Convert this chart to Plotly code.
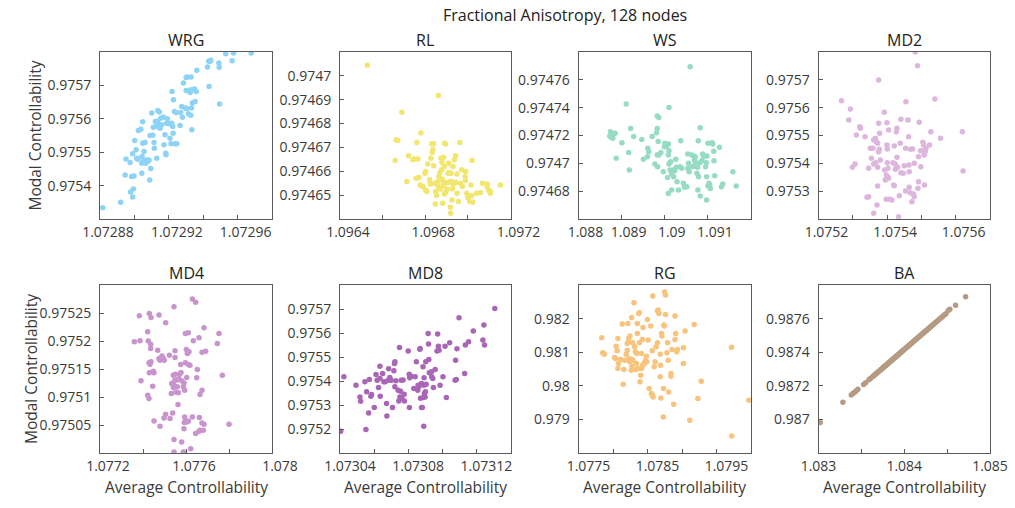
import plotly.graph_objects as go

W, H = 1015, 508

panel_names = ["WRG", "RL", "WS", "MD2", "MD4", "MD8", "RG", "BA"]
panel_colors = ["#8DD3F5", "#F3E66E", "#96DCC4", "#DDB6DE", "#C994CD", "#A966B6", "#F8C37C", "#B69A82"]

main_title = "Fractional Anisotropy, 128 nodes"
x_title = "Average Controllability"
y_title = "Modal Controllability"

wrg_x = [1.0728816, 1.072892, 1.0728946, 1.0728951, 1.0728975, 1.0728978, 1.072899, 1.0728994, 1.0728984, 1.0728998,
         1.072899, 1.0729002, 1.072901, 1.0729013, 1.0729019, 1.0729023, 1.0729037, 1.0729043, 1.0729043, 1.0729044,
         1.0729048, 1.0729048, 1.0729052, 1.0729056, 1.0729062, 1.0729066, 1.0729072, 1.0729081, 1.0729085, 1.0729089,
         1.0729095, 1.0729091, 1.0729101, 1.0729107, 1.072911, 1.0729114, 1.0729116, 1.0729122, 1.0729126, 1.072913,
         1.0729134, 1.0729136, 1.0729141, 1.0729145, 1.0729149, 1.0729153, 1.0729159, 1.0729169, 1.0729172, 1.0729178,
         1.0729182, 1.0729184, 1.0729188, 1.0729192, 1.0729202, 1.0729207, 1.0729213, 1.0729217, 1.0729219, 1.0729223,
         1.0729225, 1.0729227, 1.0729233, 1.0729237, 1.0729242, 1.0729246, 1.0729266, 1.0729269, 1.0729275, 1.0729279,
         1.0729285, 1.0729295, 1.0729301, 1.0729301, 1.0729304, 1.0729308, 1.0729314, 1.0729324, 1.0729328, 1.0729328,
         1.072933, 1.0729332, 1.0729334, 1.0729337, 1.0729349, 1.0729353, 1.0729359, 1.0729363, 1.0729425, 1.0729432,
         1.0729434, 1.072944, 1.0729444, 1.0729491, 1.0729493, 1.0729495, 1.0729531, 1.0729568, 1.0729576, 1.0729679]
wrg_y = [0.975334, 0.97535, 0.975432, 0.97548, 0.975469, 0.975381, 0.975366, 0.97539, 0.975427, 0.975429,
         0.975495, 0.975535, 0.975507, 0.975482, 0.975479, 0.975565, 0.975569, 0.975437, 0.975467, 0.975487,
         0.975591, 0.975527, 0.975477, 0.975502, 0.975529, 0.975467, 0.975477, 0.975474, 0.975477, 0.975417,
         0.975451, 0.97555, 0.975617, 0.975551, 0.975575, 0.975529, 0.975512, 0.975592, 0.975577, 0.975482,
         0.975593, 0.975625, 0.975583, 0.97562, 0.975572, 0.975602, 0.975582, 0.975605, 0.975522, 0.975552,
         0.975497, 0.975492, 0.975587, 0.9756, 0.975585, 0.975542, 0.975525, 0.975587, 0.975682, 0.975577,
         0.975557, 0.975657, 0.975622, 0.975525, 0.975619, 0.975525, 0.97558, 0.975619, 0.975637, 0.975605,
         0.975707, 0.975632, 0.975685, 0.975724, 0.975631, 0.975725, 0.975615, 0.975679, 0.975611, 0.975687,
         0.975725, 0.975632, 0.975567, 0.975647, 0.975689, 0.975652, 0.975682, 0.975745, 0.975755, 0.975772,
         0.975697, 0.975772, 0.975775, 0.975767, 0.975754, 0.975644, 0.975795, 0.975774, 0.975797, 0.975797]

rl_x = [1.0965287, 1.0968613, 1.0966903, 1.0966636, 1.0966714, 1.0967797, 1.0967609, 1.0966589, 1.0967216, 1.096742,
        1.0967483, 1.0967656, 1.0967138, 1.0967577, 1.0967703, 1.0967766, 1.0967797, 1.0967891, 1.0968017, 1.0968079,
        1.0967985, 1.0968017, 1.0968111, 1.0968205, 1.0968236, 1.0968268, 1.096833, 1.0968299, 1.0968393, 1.0968362,
        1.0968393, 1.096844, 1.0968487, 1.0968472, 1.0968534, 1.0968581, 1.0968613, 1.0968644, 1.0968691, 1.0968707,
        1.0968738, 1.096877, 1.0968785, 1.0968801, 1.0968833, 1.0968864, 1.0968817, 1.0968895, 1.0968927, 1.0968958,
        1.0968895, 1.0968864, 1.0968911, 1.0968958, 1.0969021, 1.0969052, 1.0969068, 1.0969099, 1.0969131, 1.0969178,
        1.0969209, 1.096924, 1.0969178, 1.0969193, 1.0969256, 1.0969272, 1.0969303, 1.0969303, 1.0969366, 1.0969429,
        1.0969444, 1.0969492, 1.0969492, 1.0969554, 1.0969617, 1.0969648, 1.0969711, 1.0969743, 1.0969868, 1.09699,
        1.0969884, 1.0969947, 1.0969994, 1.0970088, 1.097015, 1.0970166, 1.0970198, 1.0970229, 1.0970402, 1.097059,
        1.0970684, 1.0970904, 1.0970982, 1.0971061, 1.097105, 1.0971531, 1.0970904]
rl_y = [0.9747044, 0.9746918, 0.9746847, 0.9746732, 0.9746729, 0.974676, 0.9746721, 0.9746645, 0.9746665, 0.9746648,
        0.9746651, 0.9746652, 0.9746557, 0.9746571, 0.9746574, 0.9746543, 0.9746539, 0.9746536, 0.9746522, 0.9746515,
        0.9746592, 0.9746599, 0.9746631, 0.9746564, 0.9746547, 0.9746655, 0.9746679, 0.9746715, 0.9746715, 0.974669,
        0.9746623, 0.974655, 0.9746515, 0.9746463, 0.9746498, 0.9746557, 0.9746536, 0.9746578, 0.9746595, 0.9746525,
        0.9746655, 0.9746606, 0.9746637, 0.9746567, 0.9746557, 0.9746539, 0.9746466, 0.9746505, 0.9746508, 0.9746512,
        0.974662, 0.9746659, 0.9746718, 0.9746714, 0.9746525, 0.9746553, 0.9746592, 0.9746634, 0.9746595, 0.9746557,
        0.9746592, 0.9746557, 0.9746449, 0.9746424, 0.974648, 0.9746527, 0.9746547, 0.974662, 0.9746648, 0.9746665,
        0.9746553, 0.9746508, 0.9746589, 0.9746473, 0.9746721, 0.974655, 0.9746606, 0.9746536, 0.9746578, 0.9746599,
        0.9746561, 0.9746508, 0.974649, 0.9746473, 0.9746543, 0.9746497, 0.9746645, 0.974647, 0.9746508, 0.9746511,
        0.974655, 0.9746547, 0.9746522, 0.9746515, 0.9746508, 0.9746543, 0.9746536]

ws_x = [1.0905894, 1.0891079, 1.0900982, 1.0898643, 1.0887415, 1.0888195, 1.0888507, 1.0887571, 1.0887961, 1.0887259,
        1.0892093, 1.0892795, 1.0890066, 1.088874, 1.0891625, 1.0891781, 1.0894666, 1.0895056, 1.089607, 1.0896304,
        1.0895992, 1.0897083, 1.0897707, 1.0898097, 1.0898253, 1.0898253, 1.0898487, 1.0898253, 1.0898643, 1.0898331,
        1.089911, 1.089989, 1.0899656, 1.0900046, 1.0900436, 1.0900826, 1.0900982, 1.0900826, 1.0900982, 1.0901216,
        1.0901372, 1.0901606, 1.0902073, 1.0902541, 1.0903711, 1.0901606, 1.0900826, 1.090067, 1.0901995, 1.0902307,
        1.0902697, 1.0902853, 1.0903165, 1.0903555, 1.0903945, 1.0904334, 1.0904568, 1.0905114, 1.0905348, 1.0905504,
        1.0905348, 1.090566, 1.0906439, 1.0906284, 1.0906674, 1.0906907, 1.0907063, 1.0907063, 1.0907453, 1.0907609,
        1.0907765, 1.0907843, 1.0908155, 1.0908233, 1.0908623, 1.0908779, 1.0909013, 1.0909481, 1.0909636, 1.0909714,
        1.0909792, 1.0910026, 1.0910026, 1.091026, 1.0910416, 1.0910572, 1.0910962, 1.0911118, 1.0911352, 1.091143,
        1.0911586, 1.0912677, 1.0913145, 1.0913457, 1.0915796, 1.0916576, 1.0908233, 1.0909714, 1.0907687]
ws_y = [0.9747694, 0.9747426, 0.9747402, 0.974733, 0.9747227, 0.9747211, 0.9747216, 0.9747187, 0.974718, 0.9747196,
        0.9747251, 0.9747192, 0.9747148, 0.9747036, 0.9747077, 0.9746952, 0.9747172, 0.9747029, 0.9747108, 0.9747084,
        0.9747048, 0.9747192, 0.9746995, 0.974722, 0.9747251, 0.974734, 0.9747156, 0.974706, 0.974706, 0.9746976,
        0.9747077, 0.974712, 0.974694, 0.9747144, 0.974712, 0.9747139, 0.9747091, 0.974706, 0.9746995, 0.9746952,
        0.9747012, 0.9746923, 0.9746904, 0.9747029, 0.9747163, 0.9746808, 0.9746784, 0.9746899, 0.9746952, 0.9746947,
        0.9746971, 0.9746868, 0.9746808, 0.9746976, 0.9746964, 0.9746856, 0.9746828, 0.9746832, 0.9747067, 0.9747,
        0.9746964, 0.974694, 0.9746976, 0.974706, 0.9747053, 0.9747024, 0.9747005, 0.9747048, 0.9746928, 0.9746971,
        0.9747163, 0.9746904, 0.9747005, 0.9747256, 0.9747017, 0.9747067, 0.9747048, 0.9746976, 0.9747005, 0.9746904,
        0.9747053, 0.9747144, 0.9746837, 0.9746856, 0.9746844, 0.974682, 0.9747148, 0.9747139, 0.9747086, 0.9747019,
        0.9746911, 0.9747115, 0.9746832, 0.9746851, 0.974694, 0.9746837, 0.9746765, 0.9746737, 0.9746808]

md2_x = [1.075482, 1.0754888, 1.0753754, 1.0752669, 1.075293, 1.0752882, 1.0753202, 1.0753221, 1.0753105, 1.0753357,
         1.0753657, 1.0753754, 1.0753919, 1.0753996, 1.0754045, 1.0754287, 1.0754267, 1.0753783, 1.0753609, 1.0753686,
         1.0753725, 1.0753512, 1.0753589, 1.0753773, 1.0754006, 1.0754209, 1.0754384, 1.0754403, 1.0754548, 1.0754607,
         1.0754626, 1.0754539, 1.0754684, 1.0754742, 1.0754936, 1.0754975, 1.0755043, 1.075511, 1.075513, 1.0755236,
         1.0755275, 1.0755392, 1.0755556, 1.0756196, 1.0756215, 1.0752988, 1.0753066, 1.0753463, 1.0753541, 1.0753609,
         1.0753667, 1.0753725, 1.0753802, 1.0753928, 1.0754006, 1.0754025, 1.0754171, 1.0754238, 1.0754287, 1.0754306,
         1.0754238, 1.0753977, 1.0753996, 1.0754045, 1.0753948, 1.0754016, 1.075419, 1.0754209, 1.0754403, 1.0754471,
         1.07545, 1.0754636, 1.0754645, 1.0754791, 1.0754917, 1.0754985, 1.0755081, 1.075511, 1.0755062, 1.0753415,
         1.0753463, 1.0753725, 1.0753705, 1.0753609, 1.0753977, 1.0754074, 1.0754141, 1.0754355, 1.0754539, 1.0754645,
         1.0754674, 1.0754771, 1.0754791, 1.0754917, 1.0754897, 1.0755091, 1.0754335, 1.0754723, 1.0753996, 1.0753754]
md2_y = [0.9758, 0.9757509, 0.9756994, 0.9756251, 0.9755952, 0.9755557, 0.9755317, 0.9755257, 0.9755018, 0.9754958,
         0.9754898, 0.9755437, 0.9755832, 0.9755461, 0.9755198, 0.9755257, 0.9755138, 0.9755078, 0.9754838, 0.9754778,
         0.9754719, 0.9754539, 0.9754539, 0.9754503, 0.9754515, 0.9754623, 0.9754719, 0.9755581, 0.9756216, 0.9755557,
         0.9754958, 0.9754539, 0.9754503, 0.9754515, 0.9755473, 0.9754455, 0.9754754, 0.9754503, 0.9754539, 0.9754659,
         0.9755138, 0.9756311, 0.9754898, 0.9755138, 0.9753725, 0.9753856, 0.9753976, 0.975382, 0.975418, 0.9753976,
         0.9754024, 0.9753856, 0.975412, 0.975376, 0.9754024, 0.975382, 0.9754024, 0.9753976, 0.9754216, 0.9753856,
         0.9753784, 0.9753581, 0.9753497, 0.9753461, 0.9753401, 0.9753521, 0.9753222, 0.9753198, 0.9753665, 0.9753641,
         0.9753916, 0.975394, 0.9753701, 0.9754, 0.9754239, 0.975388, 0.9754299, 0.9754419, 0.9754659, 0.9752778,
         0.9752802, 0.9753186, 0.9752503, 0.9752204, 0.9752707, 0.9752707, 0.9752683, 0.9752838, 0.9753006, 0.9753138,
         0.9752946, 0.9752898, 0.9752802, 0.9753341, 0.9753102, 0.9753222, 0.9752084, 0.9752623, 0.9754659, 0.9754419]

md4_x = [1.0776295, 1.077645, 1.0775442, 1.0773829, 1.0774295, 1.0774372, 1.0774744, 1.0775054, 1.0776837, 1.0777535,
         1.0774217, 1.0773597, 1.077386, 1.0774248, 1.0774357, 1.0774682, 1.0774357, 1.0775969, 1.0776109, 1.0776341,
         1.0776605, 1.0776744, 1.0776915, 1.0777457, 1.0775488, 1.0775488, 1.0775225, 1.0774884, 1.0774946, 1.0774791,
         1.0774992, 1.0774744, 1.0776016, 1.077614, 1.0776062, 1.0775969, 1.0776124, 1.0776186, 1.0776527, 1.0776496,
         1.077769, 1.0774279, 1.0774372, 1.0774326, 1.0774295, 1.0774512, 1.0774481, 1.0773907, 1.0775752, 1.0775767,
         1.077569, 1.0775504, 1.0775411, 1.0775488, 1.0775566, 1.0775333, 1.0775442, 1.0775674, 1.0775798, 1.0775907,
         1.0775876, 1.0775938, 1.0775597, 1.0775535, 1.0775411, 1.0775318, 1.0775643, 1.0776031, 1.0776651, 1.0776744,
         1.0774217, 1.0774279, 1.077445, 1.0775628, 1.0775054, 1.0774977, 1.077538, 1.0775256, 1.0774512, 1.0774791,
         1.0775938, 1.0775985, 1.0775923, 1.0776031, 1.0776109, 1.0776295, 1.077662, 1.0776744, 1.0776837, 1.0776806,
         1.0776651, 1.0776605, 1.077645, 1.0775907, 1.0775442, 1.0775442, 1.0775876, 1.0775798, 1.0776217, 1.0778]
md4_y = [0.9752749, 0.975269, 0.9752612, 0.9752451, 0.9752493, 0.9752421, 0.9752463, 0.9752326, 0.9752237, 0.9752135,
         0.9752165, 0.9751986, 0.9752004, 0.9751998, 0.9751944, 0.9751837, 0.9751867, 0.9752135, 0.9752147, 0.9752004,
         0.9752058, 0.9751801, 0.9751819, 0.9751956, 0.9751825, 0.9751706, 0.9751747, 0.975173, 0.9751688, 0.9751658,
         0.9751658, 0.9751688, 0.9751849, 0.9751807, 0.9751777, 0.975161, 0.9751574, 0.9751569, 0.9751491, 0.9751342,
         0.975139, 0.975161, 0.9751628, 0.9751586, 0.9751431, 0.9751431, 0.9751461, 0.9751288, 0.975158, 0.9751437,
         0.9751402, 0.9751408, 0.975139, 0.97513, 0.9751303, 0.9751241, 0.9751211, 0.9751318, 0.9751288, 0.9751252,
         0.9751181, 0.9751121, 0.9751181, 0.9751091, 0.9751169, 0.9751062, 0.9751074, 0.9751348, 0.9751044, 0.9751121,
         0.9751032, 0.9750972, 0.9751193, 0.9750865, 0.9750692, 0.9750626, 0.9750716, 0.9750614, 0.9750573, 0.9750477,
         0.9750644, 0.9750573, 0.9750543, 0.9750555, 0.9750567, 0.9750644, 0.9750632, 0.9750537, 0.9750513, 0.9750406,
         0.9750406, 0.9750388, 0.9750346, 0.9750435, 0.9750239, 0.9750018, 0.9750018, 0.9750197, 0.9750078, 0.9750513]

md8_x = [1.0730404, 1.0730423, 1.0730494, 1.0730517, 1.0730521, 1.0730546, 1.0730552, 1.0730556, 1.0730568, 1.0730572,
         1.0730581, 1.0730585, 1.0730601, 1.0730611, 1.0730618, 1.0730626, 1.0730634, 1.0730634, 1.0730636, 1.073065,
         1.0730657, 1.0730665, 1.0730673, 1.0730675, 1.0730683, 1.0730685, 1.0730692, 1.07307, 1.0730708, 1.0730716,
         1.073072, 1.0730722, 1.0730722, 1.0730728, 1.0730741, 1.0730745, 1.0730749, 1.0730751, 1.0730755, 1.0730759,
         1.0730763, 1.073077, 1.0730776, 1.0730778, 1.07308, 1.0730806, 1.0730807, 1.0730809, 1.0730817, 1.0730833,
         1.0730841, 1.0730848, 1.0730856, 1.0730862, 1.0730858, 1.0730868, 1.073087, 1.0730872, 1.0730878, 1.0730878,
         1.0730883, 1.0730887, 1.0730889, 1.0730891, 1.0730891, 1.0730893, 1.0730895, 1.0730899, 1.0730901, 1.0730903,
         1.0730905, 1.0730917, 1.0730919, 1.0730921, 1.0730924, 1.0730936, 1.0730938, 1.0730944, 1.0730948, 1.0730958,
         1.0730969, 1.0730973, 1.0730977, 1.0730981, 1.0730987, 1.0731004, 1.0731016, 1.0731024, 1.0731043, 1.0731075,
         1.0731078, 1.0731082, 1.0731086, 1.0731098, 1.0731131, 1.0731135, 1.0731154, 1.0731182, 1.0731238, 1.0731244,
         1.0731248, 1.0731308]
md8_y = [0.9751905, 0.9754173, 0.9753825, 0.9753338, 0.9753157, 0.9753964, 0.9751974, 0.9753547, 0.975267, 0.9754062,
         0.9753366, 0.9753435, 0.9752893, 0.975427, 0.9754034, 0.9753728, 0.9754618, 0.9754103, 0.9753366, 0.9754312,
         0.9753964, 0.9753964, 0.975306, 0.9752545, 0.9754034, 0.9754507, 0.9754145, 0.9754034, 0.9752893, 0.9754424,
         0.975473, 0.9754799, 0.9753756, 0.9754006, 0.9753616, 0.9753171, 0.9755398, 0.9753338, 0.9753575, 0.9754034,
         0.9753268, 0.9754045, 0.9753449, 0.9753171, 0.9755245, 0.9754284, 0.9752893, 0.9754131, 0.9754201, 0.9753686,
         0.9754173, 0.9754799, 0.9753616, 0.9753756, 0.9753825, 0.9755328, 0.9755356, 0.9753282, 0.9753895, 0.9752893,
         0.9752893, 0.9754591, 0.975331, 0.9753825, 0.9752113, 0.9754131, 0.9753477, 0.9753338, 0.9753547, 0.9754799,
         0.9753867, 0.9755982, 0.9755537, 0.9754897, 0.975434, 0.9754382, 0.9754173, 0.9754103, 0.9753728, 0.9754479,
         0.9755245, 0.9755954, 0.9755453, 0.9755286, 0.9753825, 0.9754173, 0.9755453, 0.975331, 0.9755593, 0.9754034,
         0.9754869, 0.9754062, 0.9755342, 0.9756636, 0.9754312, 0.9755495, 0.9755634, 0.975608, 0.9755704, 0.975633,
         0.9755495, 0.9757026]

rg_x = [1.0778362, 1.0778509, 1.0778752, 1.0780214, 1.078036, 1.0780604, 1.0780458, 1.0780701, 1.0780701, 1.0780799,
        1.0781091, 1.0781335, 1.0781481, 1.0781579, 1.0781676, 1.078192, 1.0782066, 1.0782066, 1.0782163, 1.0782261,
        1.078231, 1.0782407, 1.0782261, 1.0782456, 1.0782651, 1.0782651, 1.0782699, 1.0782748, 1.0782894, 1.0782846,
        1.078304, 1.0783138, 1.0783235, 1.0783333, 1.0783382, 1.0783479, 1.0783528, 1.0783528, 1.0783723, 1.078382,
        1.0783625, 1.078382, 1.0783918, 1.0784015, 1.0784113, 1.0784259, 1.0784161, 1.0784356, 1.0784307, 1.0784502,
        1.07846, 1.0784697, 1.0784843, 1.0784892, 1.078499, 1.0785087, 1.0785233, 1.0785477, 1.0785574, 1.0785672,
        1.0785721, 1.0785769, 1.0785818, 1.0785964, 1.078611, 1.0786257, 1.0786452, 1.0786452, 1.0786549, 1.0786646,
        1.0786841, 1.078689, 1.0786841, 1.0786939, 1.0787036, 1.0787085, 1.078728, 1.0787329, 1.0787377, 1.0787426,
        1.0787475, 1.0787621, 1.0787621, 1.0787816, 1.0787913, 1.0788011, 1.078806, 1.0788401, 1.0788401, 1.0788547,
        1.0788791, 1.0788986, 1.0788986, 1.0789083, 1.0789229, 1.0789327, 1.0790204, 1.0790204, 1.0790447, 1.079113,
        1.0791763, 1.0792299, 1.0792786, 1.0797172, 1.0797221, 1.0799706]
rg_y = [0.9814293, 0.980982, 0.9809422, 0.9808428, 0.980813, 0.9810416, 0.9811808, 0.9805148, 0.9814094, 0.9806639,
        0.9807832, 0.9818368, 0.9800476, 0.980485, 0.9807633, 0.9809422, 0.9810615, 0.9812603, 0.9818567, 0.98131,
        0.980813, 0.9807136, 0.9814094, 0.981479, 0.9807832, 0.9804651, 0.9820356, 0.9805844, 0.9807633, 0.9812802,
        0.982473, 0.9811609, 0.9810118, 0.980485, 0.9806639, 0.9809621, 0.9815585, 0.9818567, 0.9821549, 0.9821748,
        0.9805148, 0.9812802, 0.9801172, 0.980316, 0.9809621, 0.9813796, 0.9805148, 0.9817374, 0.9806142, 0.9806639,
        0.9806838, 0.9807434, 0.9808826, 0.9807136, 0.981976, 0.9813597, 0.9799184, 0.9817772, 0.9797693, 0.9810416,
        0.9797196, 0.9826718, 0.9796699, 0.9805645, 0.9807136, 0.9811609, 0.9812802, 0.9822344, 0.9822543, 0.9821549,
        0.9802663, 0.9806142, 0.9809422, 0.9796401, 0.9815585, 0.981479, 0.9790735, 0.9799184, 0.981807, 0.9817772,
        0.9827911, 0.9821251, 0.9827016, 0.980982, 0.9812802, 0.9807633, 0.979819, 0.9803657, 0.9802862, 0.9810814,
        0.9794512, 0.9820754, 0.9813796, 0.9815585, 0.9810118, 0.9810814, 0.9806639, 0.9811311, 0.9816281, 0.9789741,
        0.9818269, 0.9796202, 0.9801371, 0.981151, 0.9785069, 0.9795705]

ba_x = [1.0830195, 1.0832846, 1.0833821, 1.0834016, 1.0834211, 1.0834406, 1.0834601, 1.0835264, 1.0835498, 1.0835887,
        1.0836082, 1.0836355, 1.083655, 1.0836667, 1.0836823, 1.083694, 1.0837057, 1.0837213, 1.083733, 1.0837447,
        1.0837525, 1.0837642, 1.0837759, 1.0837837, 1.0837915, 1.0838032, 1.083811, 1.0838227, 1.0838305, 1.0838383,
        1.08385, 1.0838578, 1.0838695, 1.0838773, 1.0838851, 1.0838929, 1.0839007, 1.0839085, 1.0839163, 1.0839241,
        1.0839319, 1.0839397, 1.0839514, 1.0839631, 1.0839709, 1.0839786, 1.0839903, 1.084002, 1.0840137, 1.0840254,
        1.0840332, 1.0840449, 1.0840566, 1.0840683, 1.08408, 1.0840917, 1.0841034, 1.0841151, 1.0841268, 1.0841385,
        1.0841502, 1.0841619, 1.0841736, 1.0841853, 1.084197, 1.0842087, 1.0842204, 1.0842321, 1.0842438, 1.0842555,
        1.0842672, 1.0842789, 1.0842906, 1.0843023, 1.084314, 1.0843257, 1.0843374, 1.0843491, 1.0843647, 1.0843802,
        1.0843958, 1.0844153, 1.0844309, 1.0844465, 1.084466, 1.0844855, 1.0845128, 1.0845323, 1.0845986, 1.0847156]
ba_y = [0.9869809, 0.9871022, 0.987145, 0.9871536, 0.9871621, 0.9871707, 0.9871792, 0.9872084, 0.9872186, 0.9872357,
        0.9872443, 0.9872562, 0.9872648, 0.9872699, 0.9872768, 0.9872819, 0.9872871, 0.9872939, 0.987299, 0.9873042,
        0.9873076, 0.9873127, 0.9873179, 0.9873213, 0.9873247, 0.9873299, 0.9873333, 0.9873384, 0.9873418, 0.9873453,
        0.9873504, 0.9873538, 0.987359, 0.9873624, 0.9873658, 0.9873692, 0.9873726, 0.9873761, 0.9873795, 0.9873829,
        0.9873863, 0.9873898, 0.9873949, 0.9874, 0.9874035, 0.9874069, 0.987412, 0.9874172, 0.9874223, 0.9874274,
        0.9874308, 0.987436, 0.9874411, 0.9874463, 0.9874514, 0.9874565, 0.9874617, 0.9874668, 0.9874719, 0.9874771,
        0.9874822, 0.9874873, 0.9874925, 0.9874976, 0.9875027, 0.9875079, 0.987513, 0.9875181, 0.9875233, 0.9875284,
        0.9875335, 0.9875387, 0.9875438, 0.987549, 0.9875541, 0.9875592, 0.9875644, 0.9875695, 0.9875763, 0.987583,
        0.9875898, 0.9875986, 0.9876054, 0.9876123, 0.9876208, 0.9876294, 0.987648, 0.987656, 0.987679, 0.9877304]

series_x = [wrg_x, rl_x, ws_x, md2_x, md4_x, md8_x, rg_x, ba_x]
series_y = [wrg_y, rl_y, ws_y, md2_y, md4_y, md8_y, rg_y, ba_y]

# axis ranges and ticks
x_ranges = [[1.07288, 1.07298], [1.0964, 1.0972], [1.088, 1.092], [1.0752, 1.0757],
            [1.0772, 1.078], [1.07304, 1.07314], [1.0775, 1.08], [1.083, 1.085]]
y_ranges = [[0.9753, 0.9758], [0.97464, 0.97471], [0.97466, 0.97478], [0.9752, 0.9758],
            [0.975, 0.9753], [0.9751, 0.9758], [0.978, 0.983], [0.9868, 0.9878]]
x_tick_labels = [["1.07288", "1.07292", "1.07296"], ["1.0964", "1.0968", "1.0972"],
                 ["1.088", "1.089", "1.09", "1.091"], ["1.0752", "1.0754", "1.0756"],
                 ["1.0772", "1.0776", "1.078"], ["1.07304", "1.07308", "1.07312"],
                 ["1.0775", "1.0785", "1.0795"], ["1.083", "1.084", "1.085"]]
x_minor = [[1.0729, 1.07294], [1.0966, 1.097], [], [1.0753, 1.0755],
           [1.0774, 1.0778], [1.07306, 1.0731], [1.078, 1.079], [1.0835, 1.0845]]
y_tick_labels = [["0.9754", "0.9755", "0.9756", "0.9757"],
                 ["0.97465", "0.97466", "0.97467", "0.97468", "0.97469", "0.9747"],
                 ["0.97468", "0.9747", "0.97472", "0.97474", "0.97476"],
                 ["0.9753", "0.9754", "0.9755", "0.9756", "0.9757"],
                 ["0.97505", "0.9751", "0.97515", "0.9752", "0.97525"],
                 ["0.9752", "0.9753", "0.9754", "0.9755", "0.9756", "0.9757"],
                 ["0.979", "0.98", "0.981", "0.982"],
                 ["0.987", "0.9872", "0.9874", "0.9876"]]
x_label_shift = [8, 8, 7, 8, 8, 10, 10, 0]

# panel boxes in pixels
col_px = [(100, 272), (340, 510.5), (578.5, 751), (818.5, 990)]
row_px = [(52, 219), (285, 453)]
ytitle_px = [35, 31]

FONT = "Open Sans"
TXT = "#3a3a3a"
AX = "#5a5a5a"

fig = go.Figure()
layout = dict(
    width=W, height=H, margin=dict(l=0, r=0, t=0, b=0, pad=0, autoexpand=False),
    paper_bgcolor="white", plot_bgcolor="white", showlegend=False,
    font=dict(family=FONT, color=TXT, size=14),
)
annotations = []

for i in range(8):
    r, c = divmod(i, 4)
    x0, x1 = col_px[c]
    y0, y1 = row_px[r]
    sfx = "" if i == 0 else str(i + 1)
    fig.add_trace(go.Scatter(
        x=series_x[i], y=series_y[i], mode="markers",
        marker=dict(size=5.5, color=panel_colors[i], line=dict(width=0)),
        xaxis="x" + sfx, yaxis="y" + sfx, hoverinfo="x+y",
    ))
    common = dict(showgrid=False, zeroline=False, showline=True, linecolor=AX, linewidth=1,
                  mirror=True, ticks="inside", ticklen=4, tickwidth=1, tickcolor=AX, automargin=False,
                  tickfont=dict(family=FONT, size=14, color=TXT), fixedrange=True, tickangle=0,
                  ticklabeloverflow="allow")
    layout["xaxis" + sfx] = dict(
        common, domain=[x0 / W, x1 / W], range=x_ranges[i], anchor="y" + sfx,
        tickmode="array", tickvals=[float(t) for t in x_tick_labels[i]], ticktext=x_tick_labels[i],
        minor=dict(tickmode="array", tickvals=x_minor[i], ticks="inside", ticklen=4, tickcolor=AX),
        ticklabelshift=x_label_shift[i], ticklabelstandoff=0,
    )
    layout["yaxis" + sfx] = dict(
        common, domain=[1 - y1 / H, 1 - y0 / H], range=y_ranges[i], anchor="x" + sfx,
        tickmode="array", tickvals=[float(t) for t in y_tick_labels[i]], ticktext=y_tick_labels[i],
        ticklabelstandoff=5,
    )
    annotations.append(dict(text=panel_names[i], x=(x0 + x1) / 2 / W, y=1 - (y0 - 12) / H,
                            xref="paper", yref="paper", showarrow=False, xanchor="center", yanchor="middle",
                            font=dict(family=FONT, size=16, color="#222222")))
    if r == 1:
        annotations.append(dict(text=x_title, x=(x0 + x1) / 2 / W, y=1 - 487 / H,
                                xref="paper", yref="paper", showarrow=False, xanchor="center", yanchor="middle",
                                font=dict(family=FONT, size=15.5, color=TXT)))
    if c == 0:
        annotations.append(dict(text=y_title, x=ytitle_px[r] / W, y=1 - (y0 + y1) / 2 / H, textangle=-90,
                                xref="paper", yref="paper", showarrow=False, xanchor="center", yanchor="middle",
                                font=dict(family=FONT, size=15.5, color=TXT)))

annotations.append(dict(text=main_title, x=565 / W, y=1 - 15 / H, xref="paper", yref="paper",
                        showarrow=False, xanchor="center", yanchor="middle",
                        font=dict(family=FONT, size=16, color="#222222")))
layout["annotations"] = annotations
fig.update_layout(**layout)
fig.write_html("out.html")
